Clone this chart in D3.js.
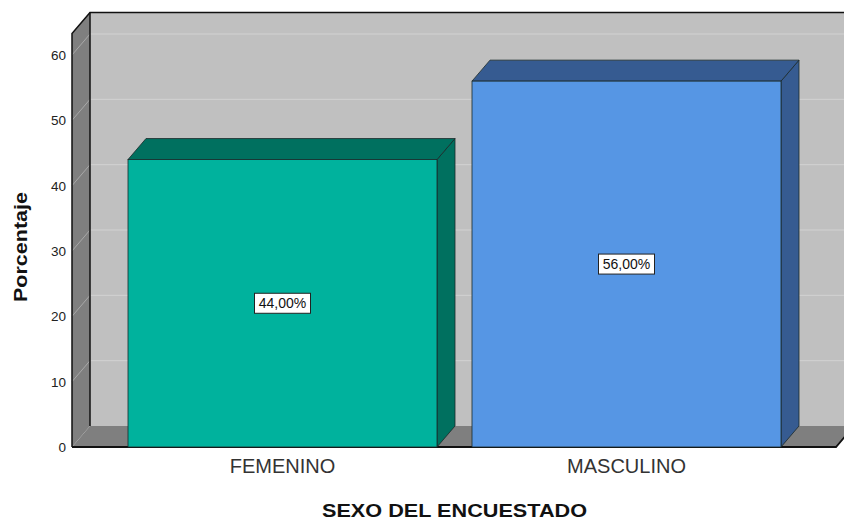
<!DOCTYPE html>
<html><head><meta charset="utf-8">
<script src="https://cdn.jsdelivr.net/npm/d3@7"></script>
<style>body{margin:0;background:#fff}svg{display:block}</style>
</head><body>
<svg id="c" width="844" height="520"></svg>
<script>
const categories = ["FEMENINO", "MASCULINO"];
const values = [44, 56];
const valueLabels = ["44,00%", "56,00%"];
const yTicks = [0, 10, 20, 30, 40, 50, 60];
const frontColors = ["#00b29d", "#5696e4"];
const darkColors = ["#00705f", "#365b91"];

const svg = d3.select("#c");
const FONT = "Arial, Liberation Sans, sans-serif";
const DX = 18, DY = -21;
const y = d3.scaleLinear().domain([0, 60]).range([447, 55]);
const yMax = 63.3;
const x = d3.scaleBand().domain(categories).range([110.5, 798.5])
  .paddingInner(35/344).paddingOuter(35/688);
const left = 72, right = 836;

// back wall
svg.append("rect").attr("x", left + DX).attr("y", y(yMax) + DY)
  .attr("width", right - left).attr("height", y(0) - y(yMax))
  .attr("fill", "#c0c0c0");
// side wall
svg.append("polygon").attr("points", [[left, y(yMax)], [left + DX, y(yMax) + DY], [left + DX, y(0) + DY], [left, y(0)]].join(" "))
  .attr("fill", "#7f7f7f");
// floor
svg.append("polygon").attr("points", [[left, y(0)], [right, y(0)], [right + DX, y(0) + DY], [left + DX, y(0) + DY]].join(" "))
  .attr("fill", "#7f7f7f");

// gridlines
yTicks.filter(v => v > 0).forEach(v => {
  svg.append("line").attr("x1", left + DX).attr("x2", right + DX)
    .attr("y1", y(v) + DY).attr("y2", y(v) + DY)
    .attr("stroke", "#d2d2d2").attr("stroke-width", 1);
  svg.append("line").attr("x1", left).attr("x2", left + DX)
    .attr("y1", y(v)).attr("y2", y(v) + DY)
    .attr("stroke", "#a8a8a8").attr("stroke-width", 1);
});

// box outlines
svg.append("path").attr("d", `M${left},${y(0)} L${left},${y(yMax)} L${left+DX},${y(yMax)+DY} L${right+DX+20},${y(yMax)+DY}`)
  .attr("fill", "none").attr("stroke", "#111").attr("stroke-width", 1.5);
svg.append("line").attr("x1", left + DX).attr("x2", left + DX)
  .attr("y1", y(yMax) + DY).attr("y2", y(0) + DY)
  .attr("stroke", "#111").attr("stroke-width", 1.5);
svg.append("path").attr("d", `M${left},${y(0)} L${right},${y(0)} L${right+DX},${y(0)+DY}`)
  .attr("fill", "none").attr("stroke", "#111").attr("stroke-width", 1.8);

// bars
const g = svg.append("g");
categories.forEach((c, i) => {
  const x0 = x(c), x1 = x(c) + x.bandwidth(), yt = y(values[i]), yb = y(0);
  g.append("polygon").attr("points", [[x1, yt], [x1 + DX, yt + DY], [x1 + DX, yb + DY], [x1, yb]].join(" "))
    .attr("fill", darkColors[i]).attr("stroke", "#1a2a2a").attr("stroke-width", 0.8);
  g.append("polygon").attr("points", [[x0, yt], [x0 + DX, yt + DY], [x1 + DX, yt + DY], [x1, yt]].join(" "))
    .attr("fill", darkColors[i]).attr("stroke", "#1a2a2a").attr("stroke-width", 0.8);
  g.append("rect").attr("x", x0).attr("y", yt).attr("width", x.bandwidth()).attr("height", yb - yt)
    .attr("fill", frontColors[i]).attr("stroke", "#1a2a2a").attr("stroke-width", 0.8);
  const cy = y(values[i] / 2), cx = x0 + x.bandwidth() / 2;
  g.append("rect").attr("x", cx - 28).attr("y", cy - 10).attr("width", 56).attr("height", 20)
    .attr("fill", "#fff").attr("stroke", "#222").attr("stroke-width", 1);
  g.append("text").attr("x", cx).attr("y", cy + 5).attr("text-anchor", "middle")
    .attr("font-family", FONT).attr("font-size", 14).attr("fill", "#111")
    .text(valueLabels[i]);
  svg.append("text").attr("x", cx).attr("y", 473).attr("text-anchor", "middle")
    .attr("font-family", FONT).attr("font-size", 20).attr("fill", "#333")
    .text(c);
});

// y tick labels
yTicks.forEach(v => {
  svg.append("text").attr("x", 66).attr("y", y(v) + 5).attr("text-anchor", "end")
    .attr("font-family", FONT).attr("font-size", 13.5).attr("fill", "#222")
    .text(v);
});

// titles
svg.append("text").attr("transform", "translate(27,247) rotate(-90)").attr("text-anchor", "middle")
  .attr("font-family", FONT).attr("font-size", 18).attr("font-weight", "bold").attr("fill", "#111")
  .attr("textLength", 110).attr("lengthAdjust", "spacingAndGlyphs")
  .text("Porcentaje");
svg.append("text").attr("x", 454.5).attr("y", 517).attr("text-anchor", "middle")
  .attr("font-family", FONT).attr("font-size", 18).attr("font-weight", "bold").attr("fill", "#111")
  .attr("textLength", 265).attr("lengthAdjust", "spacingAndGlyphs")
  .text("SEXO DEL ENCUESTADO");
</script>
</body></html>
